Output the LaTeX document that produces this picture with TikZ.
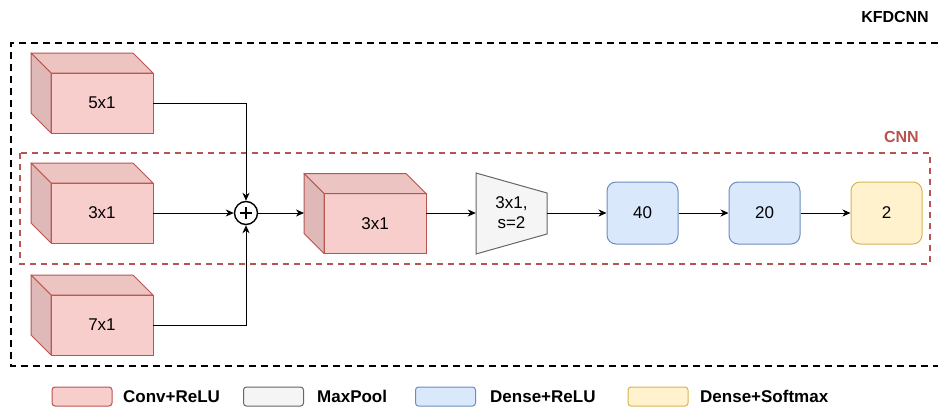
\documentclass[tikz,border=0pt]{standalone}
\usepackage{fontspec}
\setmainfont{Liberation Sans}
\usetikzlibrary{arrows.meta,positioning}
\definecolor{convfill}{HTML}{F8CECC}
\definecolor{convline}{HTML}{B85450}
\definecolor{poolfill}{HTML}{F5F5F5}
\definecolor{poolline}{HTML}{666666}
\definecolor{densefill}{HTML}{DAE8FC}
\definecolor{denseline}{HTML}{6C8EBF}
\definecolor{softfill}{HTML}{FFF2CC}
\definecolor{softline}{HTML}{D6B656}
\newcommand{\lbl}{\fontsize{17}{20}\selectfont}
\tikzstyle{conv} = [rectangle, minimum width=102pt, minimum height=60pt, inner sep=0pt, outer sep=0pt, draw=convline, fill=convfill, line width=1pt, font=\lbl]
\tikzstyle{dense} = [rectangle, rounded corners=9pt, minimum width=71pt, minimum height=62pt, inner sep=0pt, draw=denseline, fill=densefill, line width=1pt, font=\lbl]
\tikzstyle{softmax} = [dense, draw=softline, fill=softfill]
\tikzstyle{poolshape} = [draw=poolline, fill=poolfill, line width=1pt]
\tikzstyle{arrow} = [line width=1pt, -{Stealth[length=8pt,width=7pt,inset=2.5pt]}]
\tikzstyle{key} = [rectangle, rounded corners=3pt, minimum width=60pt, minimum height=19pt, inner sep=0pt, line width=1pt]
\tikzstyle{keytext} = [anchor=west, inner sep=0pt, font=\lbl\bfseries]
% top and side faces of a conv block
\newcommand{\cubefaces}[1]{%
  \filldraw[draw=convline, fill=convfill!95!black, line width=1pt, line join=round]
    (#1.north west) -- ++(-20,-20) -- ([shift={(-20,-20)}]#1.north east) -- (#1.north east) -- cycle;
  \filldraw[draw=convline, fill=convfill!90!black, line width=1pt, line join=round]
    (#1.north west) -- ++(-20,-20) -- ([shift={(-20,-20)}]#1.south west) -- (#1.south west) -- cycle;
}
\begin{document}
\begin{tikzpicture}[x=1pt, y=-1pt]
\useasboundingbox (0,0) rectangle (938,407);

% frames
\draw[line width=2pt, dash pattern=on 7pt off 5pt] (938,43) -- (11,43) -- (11,366) -- (938,366);
\node (kfd) [anchor=east, inner sep=0pt, font=\fontsize{16}{19}\selectfont\bfseries] at (929,17) {KFDCNN};
\draw[convline, line width=1.5pt, dash pattern=on 6pt off 5pt] (20,153) rectangle (930,264);
\node (cnn) [anchor=east, inner sep=0pt, text=convline, font=\fontsize{16}{19}\selectfont\bfseries] at (919,137) {CNN};

% parallel conv branches
\node (c5) [conv] at (102,103) {5x1};
\cubefaces{c5}
\node (c3) [conv] at (102,213) {3x1};
\cubefaces{c3}
\node (c7) [conv] at (102,325) {7x1};
\cubefaces{c7}

\node (sum) [circle, draw, line width=1.4pt, minimum size=23pt, inner sep=0pt,
  path picture={\draw[line width=1.4pt] (path picture bounding box.center) +(-6,0) -- +(6,0)
    (path picture bounding box.center) +(0,-6) -- +(0,6);}] at (246,213) {};

\node (mid) [conv] at (375,223.5) {3x1};
\cubefaces{mid}
\coordinate (midback) at ([xshift=-20pt]mid.west);

% max pooling
\filldraw[poolshape] (476,173) -- (547,193) -- (547,234) -- (476,254) -- cycle;
\node (pool) [minimum width=71pt, minimum height=81pt, inner sep=0pt, align=center, font=\lbl] at (511.5,213) {3x1,\\s=2};

% dense layers
\node (d40) [dense] at (642.5,213) {40};
\node (d20) [dense, right=50pt of d40] {20};
\node (out) [softmax, right=50pt of d20] {2};

% connections
\draw[arrow] (c5.east) -| (sum.north);
\draw[arrow] (c7.east) -| (sum.south);
\draw[arrow] (c3.east) -- (sum.west);
\draw[arrow] (sum.east) -- (sum.east -| midback);
\draw[arrow] (pool.west -| mid.east) -- (pool.west);
\draw[arrow] (pool.east) -- (d40.west);
\draw[arrow] (d40) -- (d20);
\draw[arrow] (d20) -- (out);

% legend
\node (k1) [key, draw=convline, fill=convfill] at (82,396.5) {};
\node (t1) [keytext] at (123,396.5) {Conv+ReLU};
\node (k2) [key, draw=poolline, fill=poolfill] at (273.5,396.5) {};
\node (t2) [keytext] at (317,396.5) {MaxPool};
\node (k3) [key, draw=denseline, fill=densefill] at (445.5,396.5) {};
\node (t3) [keytext] at (490,396.5) {Dense+ReLU};
\node (k4) [key, draw=softline, fill=softfill] at (658,396.5) {};
\node (t4) [keytext] at (700,396.5) {Dense+Softmax};
\end{tikzpicture}
\end{document}
